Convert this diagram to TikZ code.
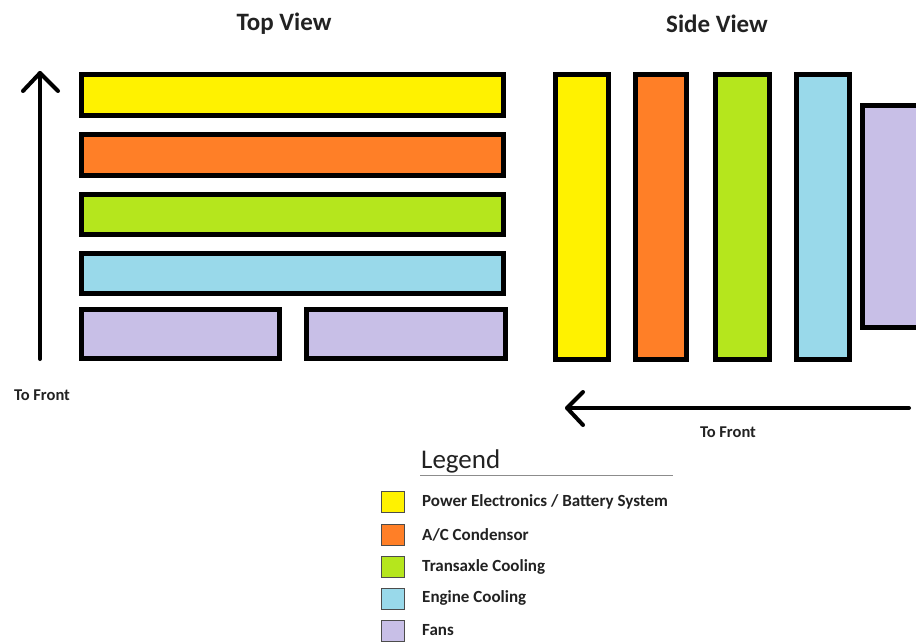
\documentclass[tikz,border=0pt]{standalone}
\usepackage{fontspec}
\setmainfont{Carlito}
\definecolor{cyel}{HTML}{FFF200}
\definecolor{cora}{HTML}{FF7F27}
\definecolor{cgrn}{HTML}{B5E61D}
\definecolor{cblu}{HTML}{99D9EA}
\definecolor{cpur}{HTML}{C8BFE7}
\definecolor{ctxt}{HTML}{222222}
\begin{document}
\begin{tikzpicture}[x=1pt,y=-1pt,
  bar/.style={draw=black, line width=5pt},
  arr/.style={draw=black, line width=4pt, line cap=round, line join=round},
  title/.style={font=\fontsize{25}{28}\selectfont\bfseries, text=ctxt, inner sep=0pt},
  small/.style={font=\fontsize{16.5}{18}\selectfont\bfseries, text=ctxt, inner sep=0pt},
  legtxt/.style={font=\fontsize{17}{19}\selectfont\bfseries, text=ctxt, inner sep=0pt, anchor=west},
  legbox/.style={draw=black!70, line width=0.6pt}]
\useasboundingbox (0,0) rectangle (916,642);
\clip (0,0) rectangle (916,642);
\fill[white] (0,0) rectangle (916,642);
% titles
\node[title] (tv) at (284,24) {Top View};
\node[title] (sv) at (717,24) {Side View};
% top view bars
\draw[bar, fill=cyel] (81.5,74.5) rectangle (503.5,115.5);
\draw[bar, fill=cora] (81.5,134.5) rectangle (503.5,175.5);
\draw[bar, fill=cgrn] (81.5,194.5) rectangle (503.5,234.5);
\draw[bar, fill=cblu] (81.5,253.5) rectangle (503.5,293.5);
\draw[bar, fill=cpur] (81.5,309.5) rectangle (279.5,358.5);
\draw[bar, fill=cpur] (306.5,309.5) rectangle (505.5,358.5);
% up arrow
\coordinate (ua) at (40,359);
\coordinate (ub) at (40,73);
\draw[arr] (ua) -- (ub);
\draw[arr] (23,91) -- (ub) -- (58,91);
\node[small] (tf1) at (42,395) {To Front};
% side view bars
\draw[bar, fill=cyel] (555.5,74.5) rectangle (608.5,359.5);
\draw[bar, fill=cora] (635.5,74.5) rectangle (686.5,359.5);
\draw[bar, fill=cgrn] (715.5,74.5) rectangle (769.5,359.5);
\draw[bar, fill=cblu] (796.5,74.5) rectangle (849.5,359.5);
\draw[bar, fill=cpur] (862.5,105.5) rectangle (930,327.5);
% side arrow
\coordinate (sa) at (909,408);
\coordinate (sb) at (567,408);
\draw[arr] (sa) -- (sb);
\draw[arr] (583,392) -- (sb) -- (583,425);
\node[small] (tf2) at (728,432) {To Front};
% legend
\node[font=\fontsize{27}{30}\selectfont, text=ctxt, inner sep=0pt, anchor=west] (lg) at (421,461) {Legend};
\draw[black!45, line width=0.8pt] (420,475) -- (673,475);
\draw[legbox, fill=cyel] (381,491) rectangle (404,512);
\node[legtxt] (l1) at (422,502) {Power Electronics / Battery System};
\draw[legbox, fill=cora] (381,524) rectangle (404,545);
\node[legtxt] (l2) at (422,535) {A/C Condensor};
\draw[legbox, fill=cgrn] (381,556) rectangle (404,577);
\node[legtxt] (l3) at (422,567) {Transaxle Cooling};
\draw[legbox, fill=cblu] (381,588) rectangle (404,609);
\node[legtxt] (l4) at (422,598) {Engine Cooling};
\draw[legbox, fill=cpur] (381,620) rectangle (404,641);
\node[legtxt] (l5) at (422,630) {Fans};
\end{tikzpicture}
\end{document}
